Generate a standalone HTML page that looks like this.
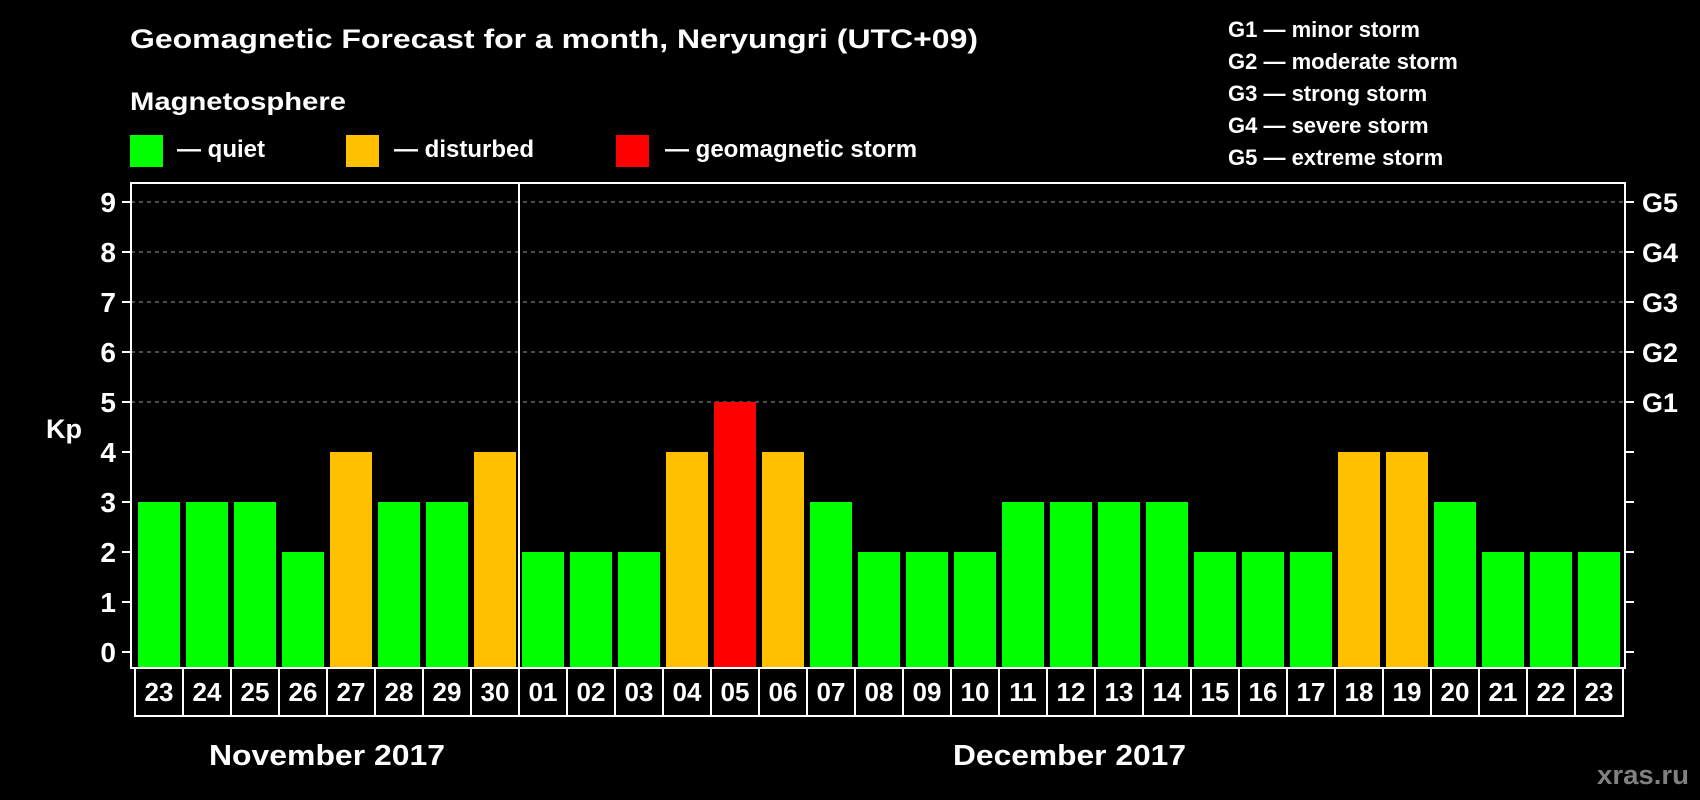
<!DOCTYPE html>
<html><head><meta charset="utf-8"><style>
html,body{margin:0;padding:0;background:#000;}
svg{display:block;font-family:"Liberation Sans",Arial,sans-serif;font-weight:bold;}
</style></head><body>
<svg id="chart" width="1700" height="800" viewBox="0 0 1700 800" xmlns="http://www.w3.org/2000/svg">
<rect x="0" y="0" width="1700" height="800" fill="#000"/>
<text x="130" y="48" font-size="27" fill="#fff" textLength="848" lengthAdjust="spacingAndGlyphs">Geomagnetic Forecast for a month, Neryungri (UTC+09)</text>
<text x="130" y="110" font-size="25" fill="#fff" textLength="216" lengthAdjust="spacingAndGlyphs">Magnetosphere</text>
<g>
<rect x="130" y="135" width="33" height="32" fill="#00ff00"/>
<text x="177" y="157" font-size="24" fill="#fff">— quiet</text>
<rect x="346" y="135" width="33" height="32" fill="#ffc000"/>
<text x="394" y="157" font-size="24" fill="#fff">— disturbed</text>
<rect x="616" y="135" width="33" height="32" fill="#ff0000"/>
<text x="665" y="157" font-size="24" fill="#fff">— geomagnetic storm</text>
</g>
<g font-size="22" fill="#fff">
<text x="1228" y="37">G1 — minor storm</text>
<text x="1228" y="69">G2 — moderate storm</text>
<text x="1228" y="101">G3 — strong storm</text>
<text x="1228" y="133">G4 — severe storm</text>
<text x="1228" y="165">G5 — extreme storm</text>
</g>
<g id="grid"></g>
<g id="bars"></g>
<g id="axes"></g>
<rect x="131" y="183" width="1494" height="485" fill="none" stroke="#fff" stroke-width="2"/>
<line x1="519" y1="183" x2="519" y2="668" stroke="#fff" stroke-width="2"/>
<g id="days"></g>
<text x="64" y="438" font-size="27" fill="#fff" text-anchor="middle">Kp</text>
<text x="209" y="765" font-size="29" fill="#fff" textLength="236" lengthAdjust="spacingAndGlyphs">November 2017</text>
<text x="953" y="765" font-size="29" fill="#fff" textLength="233" lengthAdjust="spacingAndGlyphs">December 2017</text>
<text x="1597" y="784" font-size="27" fill="#808080" textLength="92" lengthAdjust="spacingAndGlyphs">xras.ru</text>
</svg>
<script>
const days = ["23","24","25","26","27","28","29","30","01","02","03","04","05","06","07","08","09","10","11","12","13","14","15","16","17","18","19","20","21","22","23"];
const kpValues = [3,3,3,2,4,3,3,4,2,2,2,4,5,4,3,2,2,2,3,3,3,3,2,2,2,4,4,3,2,2,2];
const yTicks = [0,1,2,3,4,5,6,7,8,9];
const gLabels = ["G1","G2","G3","G4","G5"];
const gLevels = [5,6,7,8,9];

const NS = "http://www.w3.org/2000/svg";
const y = v => 652 - 50 * v;
const xLeft = i => 138 + 48 * i;
const plotBottom = 667;
function mk(tag, attrs, parent){const e=document.createElementNS(NS,tag);for(const k in attrs)e.setAttribute(k,attrs[k]);parent.appendChild(e);return e;}
const grid=document.getElementById('grid'),bars=document.getElementById('bars'),axes=document.getElementById('axes'),dayG=document.getElementById('days');

gLevels.forEach((lv,i)=>{
  const l=mk('line',{x1:131,x2:1625,y1:y(lv),y2:y(lv),stroke:'#999','stroke-width':1,'stroke-dasharray':'4,4'},grid);
  
  
  const t=mk('text',{x:1642,y:y(lv)+10,'font-size':27,fill:'#fff'},axes);
  t.textContent=gLabels[i];
  
  
});
yTicks.forEach(v=>{
  const a=mk('line',{x1:122,x2:131,y1:y(v),y2:y(v),stroke:'#fff','stroke-width':2},axes);
  
  
  const b=mk('line',{x1:1625,x2:1634,y1:y(v),y2:y(v),stroke:'#fff','stroke-width':2},axes);
  
  
  const t=mk('text',{x:116,y:y(v)+10,'font-size':28,fill:'#fff','text-anchor':'end'},axes);
  t.textContent=v;
  
  
});
kpValues.forEach((v,i)=>{
  const col = v>=5 ? '#ff0000' : (v>=4 ? '#ffc000' : '#00ff00');
  const r=mk('rect',{x:xLeft(i),y:y(v),width:42,height:plotBottom-y(v),fill:col},bars);
  
  
});
days.forEach((d,i)=>{
  const r=mk('rect',{x:135+48*i,y:668,width:48,height:48,fill:'none',stroke:'#fff','stroke-width':2},dayG);
  
  
  const t=mk('text',{x:159+48*i,y:701,'font-size':26,fill:'#fff','text-anchor':'middle'},dayG);
  t.textContent=d;
  
  
});
</script>
</body></html>
